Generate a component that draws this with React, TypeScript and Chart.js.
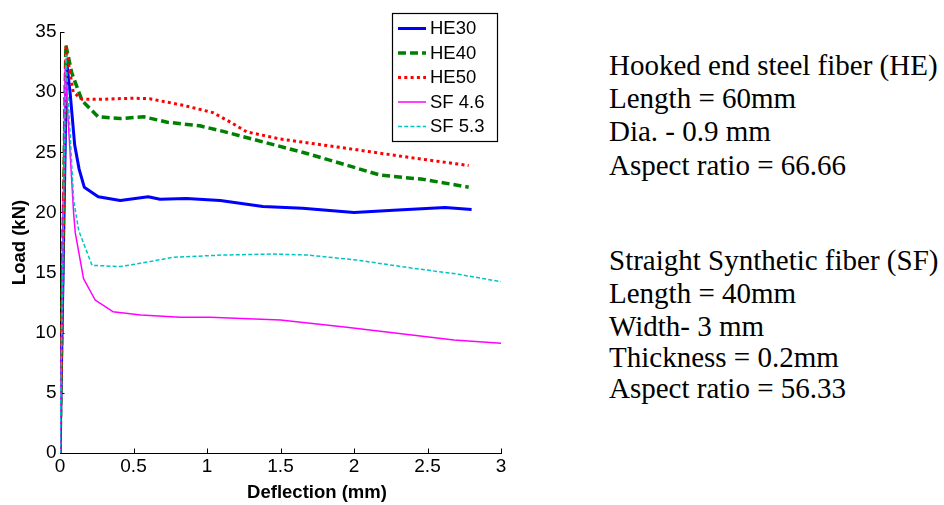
import React, { useEffect, useRef } from "react";
import { Chart, registerables } from "chart.js";

Chart.register(...registerables);

// ---- data ----
const seriesNames = ["HE30", "HE40", "HE50", "SF 4.6", "SF 5.3"];

const he30X = [0, 0.045, 0.07, 0.1, 0.13, 0.165, 0.26, 0.41, 0.6, 0.68, 0.86, 1.09, 1.38, 1.65, 2.0, 2.3, 2.62, 2.8];
const he30Y = [0, 32.6, 29.8, 25.6, 23.6, 22.1, 21.3, 21.0, 21.3, 21.1, 21.15, 21.0, 20.5, 20.35, 20.0, 20.2, 20.4, 20.25];

const he40X = [0, 0.04, 0.08, 0.15, 0.26, 0.41, 0.57, 0.73, 0.95, 1.09, 1.23, 1.68, 2.18, 2.47, 2.78];
const he40Y = [0, 33.9, 31.6, 29.3, 27.95, 27.8, 27.95, 27.5, 27.2, 26.8, 26.35, 24.9, 23.1, 22.75, 22.1];

const he50X = [0, 0.04, 0.09, 0.15, 0.27, 0.5, 0.61, 0.84, 1.04, 1.16, 1.27, 1.5, 1.91, 2.36, 2.78];
const he50Y = [0, 33.7, 30.0, 29.4, 29.4, 29.5, 29.45, 28.9, 28.3, 27.5, 26.7, 26.1, 25.4, 24.6, 23.9];

const sf46X = [0, 0.035, 0.093, 0.104, 0.16, 0.24, 0.36, 0.55, 0.82, 1.02, 1.5, 1.95, 2.68, 3.0];
const sf46Y = [0, 32.0, 19.9, 18.3, 14.5, 12.7, 11.75, 11.47, 11.28, 11.28, 11.06, 10.45, 9.39, 9.12];

const sf53X = [0, 0.04, 0.093, 0.127, 0.218, 0.41, 0.545, 0.77, 1.11, 1.45, 1.68, 2.02, 2.36, 2.7, 3.0];
const sf53Y = [0, 33.1, 21.0, 18.5, 15.6, 15.5, 15.77, 16.27, 16.46, 16.54, 16.46, 16.04, 15.43, 14.88, 14.24];

const xTicks = [0, 0.5, 1, 1.5, 2, 2.5, 3];
const xTickLabels = ["0", "0.5", "1", "1.5", "2", "2.5", "3"];
const yTicks = [0, 5, 10, 15, 20, 25, 30, 35];
const yTickLabels = ["0", "5", "10", "15", "20", "25", "30", "35"];

const xTitle = "Deflection (mm)";
const yTitle = "Load (kN)";

const heNotes = [
  "Hooked end steel fiber (HE)",
  "Length = 60mm",
  "Dia. - 0.9 mm",
  "Aspect ratio = 66.66",
];
const sfNotes = [
  "Straight Synthetic fiber (SF)",
  "Length = 40mm",
  "Width- 3 mm",
  "Thickness = 0.2mm",
  "Aspect ratio = 56.33",
];

// ---- styles ----
const SANS = "'Liberation Sans', Arial, sans-serif";
const SERIF = "'Liberation Serif', 'Times New Roman', serif";

const styles = [
  { color: "#0000FF", width: 3, dash: [] as number[] },
  { color: "#008000", width: 3.5, dash: [8, 4] },
  { color: "#FF0000", width: 3, dash: [3, 3.3] },
  { color: "#FF00FF", width: 1.5, dash: [] as number[] },
  { color: "#00C4C4", width: 1.5, dash: [4, 2.2] },
];

const zip = (xs: number[], ys: number[]) => xs.map((x, i) => ({ x, y: ys[i] }));

const heNoteTops = [51, 84, 117, 151];
const sfNoteTops = [246, 279, 312, 343, 374];

const inwardTicks = {
  id: "inwardTicks",
  beforeDatasetsDraw(chart: any) {
    const { ctx, chartArea, scales } = chart;
    ctx.save();
    ctx.strokeStyle = "#000";
    ctx.lineWidth = 1;
    scales.x.ticks.forEach((t: any) => {
      const px = Math.round(scales.x.getPixelForValue(t.value)) + 0.5;
      ctx.beginPath();
      ctx.moveTo(px, chartArea.bottom);
      ctx.lineTo(px, chartArea.bottom - 4.5);
      ctx.stroke();
    });
    scales.y.ticks.forEach((t: any) => {
      const py = Math.round(scales.y.getPixelForValue(t.value)) + 0.5;
      ctx.beginPath();
      ctx.moveTo(chartArea.left, py);
      ctx.lineTo(chartArea.left + 4.5, py);
      ctx.stroke();
    });
    ctx.restore();
  },
};

const boxLegend = {
  id: "boxLegend",
  afterDraw(chart: any) {
    const { ctx } = chart;
    const left = 392, top = 13, right = 497, bottom = 141;
    ctx.save();
    ctx.fillStyle = "#fff";
    ctx.fillRect(left, top, right - left, bottom - top);
    ctx.strokeStyle = "#000";
    ctx.lineWidth = 1.2;
    ctx.strokeRect(left + 0.5, top + 0.5, right - left, bottom - top);
    ctx.font = `18.5px ${SANS}`;
    ctx.textBaseline = "middle";
    ctx.textAlign = "left";
    chart.data.datasets.forEach((ds: any, i: number) => {
      const y = 28.5 + i * 24.5;
      ctx.beginPath();
      ctx.strokeStyle = ds.borderColor;
      ctx.lineWidth = ds.borderWidth;
      ctx.setLineDash(ds.borderDash || []);
      ctx.moveTo(398, y);
      ctx.lineTo(426, y);
      ctx.stroke();
      ctx.setLineDash([]);
      ctx.fillStyle = "#000";
      ctx.fillText(ds.label, 430, y + 0.5);
    });
    // x-axis title
    ctx.font = `bold 18.5px ${SANS}`;
    ctx.textAlign = "center";
    ctx.fillText(xTitle, 317, 493);
    ctx.restore();
  },
};

export default function App() {
  const canvasRef = useRef<HTMLCanvasElement | null>(null);

  useEffect(() => {
    document.body.style.margin = "0";
    const canvas = canvasRef.current;
    if (!canvas) return;
    const xs = [he30X, he40X, he50X, sf46X, sf53X];
    const ys = [he30Y, he40Y, he50Y, sf46Y, sf53Y];
    const chart = new Chart(canvas, {
      type: "line",
      data: {
        datasets: seriesNames.map((name, i) => ({
          label: name,
          data: zip(xs[i], ys[i]),
          borderColor: styles[i].color,
          backgroundColor: styles[i].color,
          borderWidth: styles[i].width,
          borderDash: styles[i].dash,
          pointRadius: 0,
          tension: 0,
          fill: false,
          borderJoinStyle: "round",
          order: seriesNames.length - i,
        })),
      },
      options: {
        animation: false,
        responsive: false,
        devicePixelRatio: 1,
        layout: { padding: { left: 0, top: 32, right: 59, bottom: 0 } },
        plugins: {
          legend: { display: false },
          tooltip: { enabled: false },
          title: { display: false },
        },
        scales: {
          x: {
            type: "linear",
            min: 0,
            max: 3,
            afterBuildTicks: (scale: any) => {
              scale.ticks = xTicks.map((v) => ({ value: v }));
            },
            afterFit: (scale: any) => {
              scale.height = 52;
            },
            grid: { display: false, drawTicks: false },
            border: { display: true, color: "#000", width: 1 },
            ticks: {
              color: "#000",
              font: { family: SANS, size: 19 },
              padding: 2,
              maxRotation: 0,
              autoSkip: false,
              callback: (v: any) => {
                const k = xTicks.indexOf(Number(v));
                return k >= 0 ? xTickLabels[k] : "";
              },
            },
          },
          y: {
            type: "linear",
            min: 0,
            max: 35,
            afterBuildTicks: (scale: any) => {
              scale.ticks = yTicks.map((v) => ({ value: v }));
            },
            afterFit: (scale: any) => {
              scale.width = 60;
            },
            grid: { display: false, drawTicks: false },
            border: { display: true, color: "#000", width: 1 },
            ticks: {
              color: "#000",
              font: { family: SANS, size: 19 },
              padding: 3.5,
              autoSkip: false,
              callback: (v: any) => {
                const k = yTicks.indexOf(Number(v));
                return k >= 0 ? yTickLabels[k] : "";
              },
            },
            title: {
              display: true,
              text: yTitle,
              color: "#000",
              font: { family: SANS, size: 18.5, weight: "bold" },
              padding: { top: 8.5, bottom: 0 },
            },
          },
        },
      },
      plugins: [inwardTicks, boxLegend],
    } as any);
    return () => chart.destroy();
  }, []);

  const noteStyle = (top: number): React.CSSProperties => ({
    position: "absolute",
    left: 609,
    top,
    fontFamily: SERIF,
    fontSize: 29,
    lineHeight: "29px",
    color: "#000",
    whiteSpace: "nowrap",
  });

  return (
    <div style={{ position: "fixed", left: 0, top: 0, width: 944, height: 505, background: "#fff", overflow: "hidden" }}>
      <canvas ref={canvasRef} width={560} height={505} style={{ display: "block", width: 560, height: 505 }} />
      {heNotes.map((t, i) => (
        <div key={"he" + i} style={noteStyle(heNoteTops[i])}>{t}</div>
      ))}
      {sfNotes.map((t, i) => (
        <div key={"sf" + i} style={noteStyle(sfNoteTops[i])}>{t}</div>
      ))}
    </div>
  );
}
